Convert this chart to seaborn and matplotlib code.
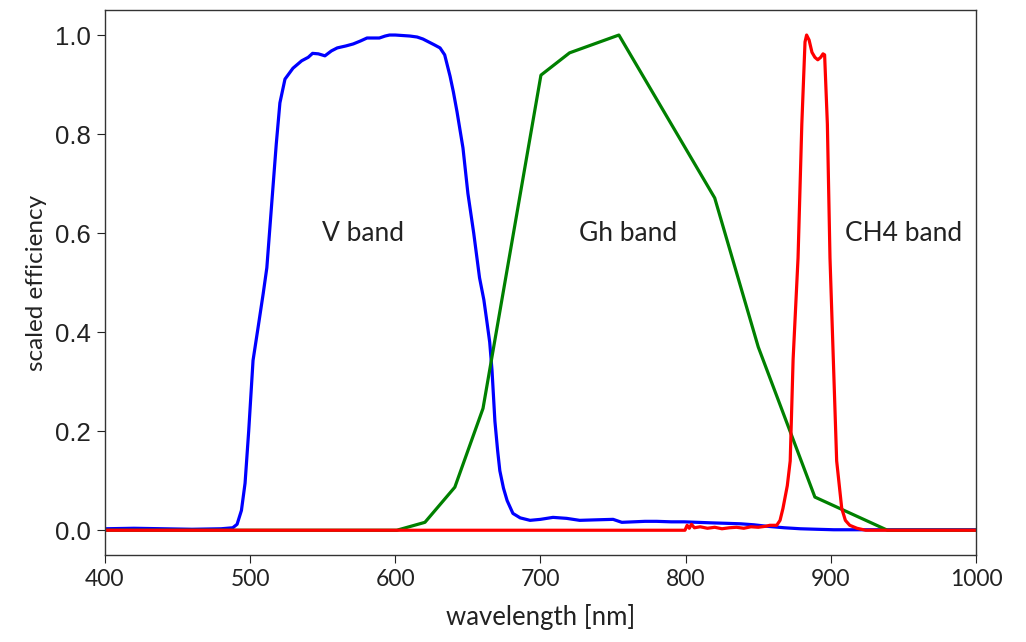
import matplotlib
matplotlib.use("Agg")
import matplotlib.pyplot as plt
from matplotlib.font_manager import FontProperties
import seaborn as sns
import numpy as np

# V band (blue)
wl_v = [400, 420, 440, 460, 480, 488, 491, 494, 496.5, 499,
        502, 505.5, 509, 511.5, 515, 518, 520.5, 524, 529.5, 535.5,
        540, 543, 547, 551.5, 556, 560, 566, 571, 576, 580.5,
        585, 589, 593, 596, 600, 605, 610, 615, 619, 623,
        627, 630.8, 634, 637.7, 640, 642.5, 646.6, 650, 654, 658,
        661, 663, 665, 666.6, 668.6, 670.5, 672, 674.5, 677, 681,
        686, 692.8, 700, 708.6, 718, 727, 738, 750, 756, 764,
        772, 780, 790, 799, 808, 817, 828, 838, 847, 856,
        868, 879, 890, 902, 920, 950, 1000]
eff_v = [0.003, 0.004, 0.003, 0.002, 0.003, 0.005, 0.012, 0.04, 0.095, 0.2,
         0.343, 0.41, 0.478, 0.53, 0.665, 0.78, 0.863, 0.911, 0.933, 0.948,
         0.955, 0.963, 0.962, 0.958, 0.968, 0.974, 0.978, 0.982, 0.988, 0.994,
         0.994, 0.994, 0.998, 1.0, 1.0, 0.999, 0.998, 0.996, 0.992, 0.986,
         0.98, 0.974, 0.96, 0.917, 0.885, 0.845, 0.772, 0.68, 0.6, 0.51,
         0.465, 0.423, 0.38, 0.323, 0.22, 0.16, 0.12, 0.085, 0.06, 0.034,
         0.025, 0.02, 0.022, 0.026, 0.024, 0.02, 0.021, 0.022, 0.016, 0.017,
         0.018, 0.018, 0.017, 0.017, 0.016, 0.015, 0.014, 0.013, 0.011, 0.008,
         0.005, 0.003, 0.002, 0.001, 0.001, 0.001, 0.001]

# Gh band (green)
wl_g = [400, 601, 620.4, 641, 660.4, 700.3, 720, 754, 820, 850, 889, 939, 1000]
eff_g = [0.0, 0.0, 0.016, 0.087, 0.246, 0.919, 0.964, 1.0, 0.671, 0.37, 0.067, 0.0, 0.0]

# CH4 band (red)
wl_r = [400, 799.5, 801, 802.5, 804, 806, 810, 815, 820, 825,
        830, 835, 840, 845, 850, 855, 858, 862.7, 865, 867,
        870, 872, 874, 877.4, 880, 882.2, 883.3, 885, 887, 889,
        891, 893, 894.6, 895.7, 897.6, 899.4, 901.7, 904, 907.5, 910,
        913, 918, 924, 1000]
eff_r = [0.0, 0.0, 0.01, 0.004, 0.012, 0.005, 0.007, 0.004, 0.006, 0.003,
         0.005, 0.006, 0.004, 0.007, 0.006, 0.008, 0.01, 0.01, 0.02, 0.044,
         0.09, 0.14, 0.345, 0.55, 0.82, 0.986, 1.0, 0.99, 0.965, 0.955,
         0.95, 0.955, 0.962, 0.96, 0.82, 0.55, 0.345, 0.14, 0.044, 0.02,
         0.01, 0.004, 0.0, 0.0]

band_labels = ["V band", "Gh band", "CH4 band"]
label_x = [578, 760, 950]
label_y = [0.6, 0.6, 0.6]

xticks = [400, 500, 600, 700, 800, 900, 1000]
yticks = [0.0, 0.2, 0.4, 0.6, 0.8, 1.0]
ytick_labels = ["0.0", "0.2", "0.4", "0.6", "0.8", "1.0"]

sns.set_style("ticks")
plt.rcParams['font.family'] = ['Lato', 'DejaVu Sans']

fig = plt.figure(figsize=(10.26, 6.42), dpi=100)
ax = fig.add_axes([0.1023, 0.1355, 0.849, 0.8485])

lw = 2.3
sns.lineplot(x=wl_v, y=eff_v, color="#0000ff", lw=lw, ax=ax, sort=False)
sns.lineplot(x=wl_g, y=eff_g, color="#008000", lw=lw, ax=ax, sort=False)
sns.lineplot(x=wl_r, y=eff_r, color="#ff0000", lw=lw, ax=ax, sort=False)

for t, x, y in zip(band_labels, label_x, label_y):
    ax.text(x, y, t, ha="center", va="center", fontsize=19, color="#222222")

ax.set_xlim(400, 1000)
ax.set_ylim(-0.05, 1.05)
ax.set_xticks(xticks)
ax.set_xticklabels([str(v) for v in xticks], fontsize=16.5, color="#222222")
ax.set_yticks(yticks)
ax.set_yticklabels(ytick_labels, color="#222222")
ax.tick_params(axis="both", colors="#222222", length=6, pad=4)
ax.set_xlabel("wavelength [nm]", fontsize=18.5, color="#222222", labelpad=10)
ax.set_ylabel("scaled efficiency", fontsize=17.5, color="#222222", labelpad=6)
for s in ax.spines.values():
    s.set_color("#333333")
    s.set_linewidth(1.0)

fig.canvas.draw()
yfp = FontProperties(family="Liberation Sans", size=18.5)
for lab in ax.get_yticklabels():
    lab.set_fontproperties(yfp)

fig.savefig("out.png", dpi=100)
